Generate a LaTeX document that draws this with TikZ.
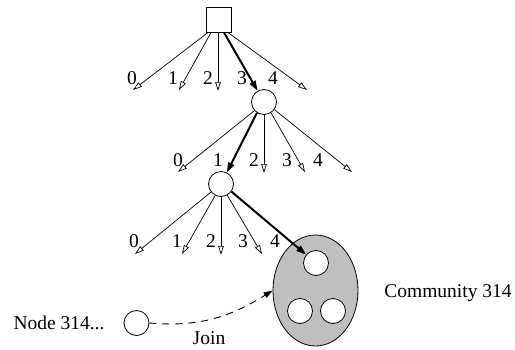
\documentclass[tikz,border=0pt]{standalone}
\usepackage{fontspec}
\setmainfont{Liberation Serif}
\usetikzlibrary{arrows.meta,shapes.geometric}
\begin{document}
\begin{tikzpicture}[x=1pt,y=-1pt,
  every node/.style={font=\fontsize{19.5}{22}\selectfont},
  lbl/.style={inner sep=0pt},
  vertex/.style={draw,circle,minimum size=25pt,inner sep=0pt,line width=0.8pt,fill=white},
  branch/.style={line width=0.7pt,-{Triangle[open,length=9pt,width=5.5pt]}},
  chosen/.style={line width=2pt,-{Triangle[length=10pt,width=6.5pt]}},
  joinline/.style={line width=0.9pt,dash pattern=on 7pt off 6pt,-{Triangle[length=9pt,width=6pt]}}]
\useasboundingbox (0,0) rectangle (515,349);

% root, two tree levels and the community
\node[draw,rectangle,minimum width=25pt,minimum height=25pt,inner sep=0pt,line width=0.8pt] (root) at (219,20) {};
\node[vertex] (c1) at (264,102) {};
\node[vertex] (c2) at (221,184) {};
\node[draw,ellipse,fill=black!25,line width=0.8pt,minimum width=85pt,minimum height=111pt,inner sep=0pt] (comm) at (315.5,290.5) {};
\node[vertex] (m1) at (316,263) {};
\node[vertex] (m2) at (300,311) {};
\node[vertex] (m3) at (333,311) {};
\node[vertex] (newnode) at (136.5,323) {};

% start points on the square's lower edge
\coordinate (r0) at (208,32.5);
\coordinate (r1) at (211,32.5);
\coordinate (r2) at (218,32.5);
\coordinate (r3) at (224,32.5);
\coordinate (r4) at (228,32.5);

% free ends of the branches
\coordinate (a0) at (133,90);
\coordinate (a1) at (179,90);
\coordinate (a2) at (218,91);
\coordinate (a4) at (307,90);
\coordinate (b0) at (178,172);
\coordinate (b2) at (264,173);
\coordinate (b3) at (305,172);
\coordinate (b4) at (352,172);
\coordinate (d0) at (135,254);
\coordinate (d1) at (182,254);
\coordinate (d2) at (221,255);
\coordinate (d3) at (262,254);

% level 1
\draw[branch] (r0) -- (a0);
\draw[branch] (r1) -- (a1);
\draw[branch] (r2) -- (a2);
\draw[chosen] (r3) -- (c1);
\draw[branch] (r4) -- (a4);
\node[lbl] (l00) at (132,78) {0};
\node[lbl] (l01) at (173,78) {1};
\node[lbl] (l02) at (208,78) {2};
\node[lbl] (l03) at (242,78) {3};
\node[lbl] (l04) at (273,78) {4};

% level 2
\draw[branch] (c1.222) -- (b0);
\draw[chosen] (c1.237) -- (c2);
\draw[branch] (c1.270) -- (b2);
\draw[branch] (c1.303) -- (b3);
\draw[branch] (c1.324) -- (b4);
\node[lbl] (l10) at (178,160) {0};
\node[lbl] (l11) at (218,160) {1};
\node[lbl] (l12) at (254,160) {2};
\node[lbl] (l13) at (287,160) {3};
\node[lbl] (l14) at (318,160) {4};

% level 3
\draw[branch] (c2.219) -- (d0);
\draw[branch] (c2.243) -- (d1);
\draw[branch] (c2.270) -- (d2);
\draw[branch] (c2.299) -- (d3);
\draw[chosen] (c2.324) -- (m1);
\node[lbl] (l20) at (134,241) {0};
\node[lbl] (l21) at (177,241) {1};
\node[lbl] (l22) at (211,241) {2};
\node[lbl] (l23) at (243,241) {3};
\node[lbl] (l24) at (275,241) {4};

% joining node
\node[lbl] (nodetext) at (59,323) {Node 314...};
\node[lbl] (commtext) at (448,293) {Community 314};
\draw[joinline] (newnode.east) to[out=-5,in=212] (comm.west);
\node[lbl] (jointext) at (209,338) {Join};
\end{tikzpicture}
\end{document}
